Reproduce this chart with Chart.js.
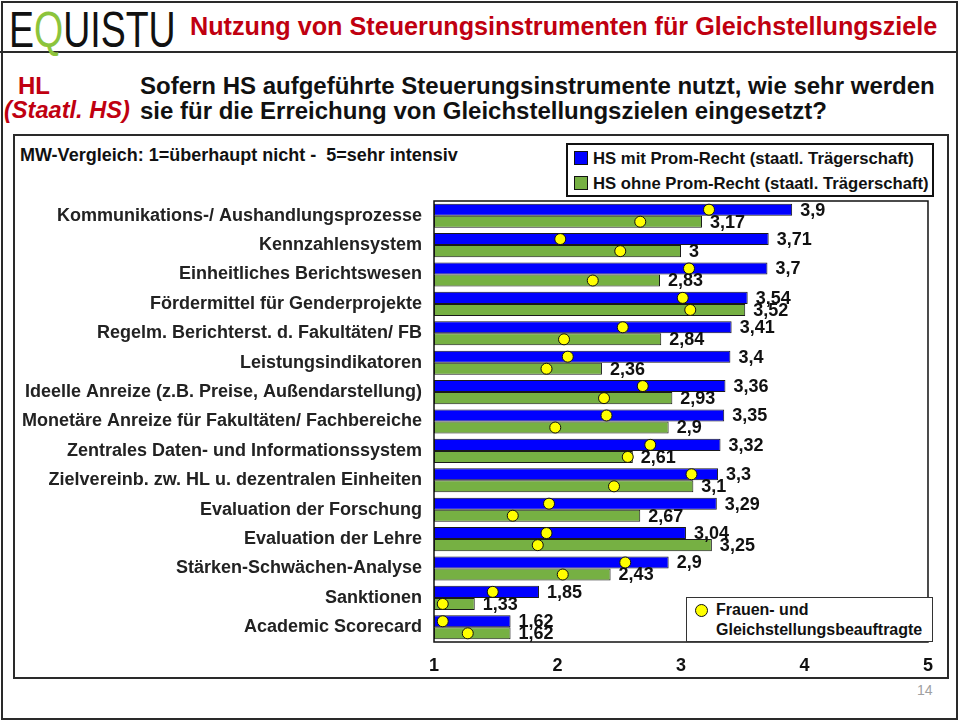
<!DOCTYPE html>
<html><head><meta charset="utf-8">
<script src="https://cdn.jsdelivr.net/npm/chart.js@4/dist/chart.umd.min.js"></script>
<style>
html,body{margin:0;padding:0;background:#fff;}
#page{position:relative;width:960px;height:721px;overflow:hidden;font-family:"Liberation Sans",Arial,sans-serif;color:#111;}
#frame{position:absolute;left:1px;top:1px;width:953px;height:715px;border:2px solid #2a2a2a;}
#hline{position:absolute;left:0;top:51px;width:958px;height:2px;background:#2a2a2a;}
#logo{position:absolute;left:9px;top:2px;font-family:"Liberation Sans",Arial,sans-serif;font-size:50px;line-height:56px;color:#111;transform:scaleX(0.75);transform-origin:0 0;white-space:nowrap;}
#logo .q{color:#8cc43c;}
#title{position:absolute;left:190px;top:12px;font-size:25.2px;font-weight:bold;color:#c00010;white-space:nowrap;}
.q1{position:absolute;font-size:24px;font-weight:bold;white-space:nowrap;}
#box{position:absolute;left:13px;top:134px;width:932px;height:541px;border:2px solid #2a2a2a;}
#mw{position:absolute;left:20px;top:145px;font-size:18px;font-weight:bold;white-space:nowrap;}
#leg1{position:absolute;left:566px;top:143px;width:364px;height:50px;border:2px solid #111;background:#fff;}
.li{position:absolute;left:6px;font-size:16.7px;font-weight:bold;white-space:nowrap;}
.sw{display:inline-block;width:12px;height:12px;border:1px solid #111;vertical-align:-1px;margin-right:5px;}
#leg2{position:absolute;left:686px;top:597px;width:245px;height:43px;border:1.5px solid #333;background:#fff;}
#leg2 .dot{position:absolute;left:8px;top:6px;width:11px;height:11px;border-radius:50%;background:#ffff00;border:1px solid #111;}
#leg2 .t{position:absolute;left:29px;top:2px;font-size:16px;font-weight:bold;line-height:20px;white-space:nowrap;}
#pnum{position:absolute;left:917px;top:682px;font-size:14px;color:#a0a0a0;}
#cv, #cvDots{position:absolute;left:14px;top:136px;}
</style></head>
<body><div id="page">
<div id="frame"></div>
<div id="hline"></div>
<div id="logo">E<span class="q">Q</span>UISTU</div>
<div id="title">Nutzung von Steuerungsinstrumenten für Gleichstellungsziele</div>
<div class="q1" style="left:18px;top:72px;color:#c00010;">HL</div>
<div class="q1" style="left:140px;top:72px;">Sofern HS aufgeführte Steuerungsinstrumente nutzt, wie sehr werden</div>
<div class="q1" style="left:4px;top:97px;color:#c00010;font-style:italic;font-size:23.6px;">(Staatl. HS)</div>
<div class="q1" style="left:140px;top:97px;">sie für die Erreichung von Gleichstellungszielen eingesetzt?</div>
<div id="box"></div>
<div id="mw">MW-Vergleich: 1=überhaupt nicht -&nbsp; 5=sehr intensiv</div>
<canvas id="cv" width="932" height="540"></canvas>
<canvas id="cvDots" width="932" height="540"></canvas>
<div id="leg1">
  <div class="li" style="top:4px;"><span class="sw" style="background:#0000ff"></span>HS mit Prom-Recht (staatl. Trägerschaft)</div>
  <div class="li" style="top:29px;"><span class="sw" style="background:#76b043"></span>HS ohne Prom-Recht (staatl. Trägerschaft)</div>
</div>
<div id="leg2"><div class="dot"></div><div class="t">Frauen- und<br>Gleichstellungsbeauftragte</div></div>
<div id="pnum">14</div>
</div>
<script>
const categories = [
  "Kommunikations-/ Aushandlungsprozesse",
  "Kennzahlensystem",
  "Einheitliches Berichtswesen",
  "Fördermittel für Genderprojekte",
  "Regelm. Berichterst. d. Fakultäten/ FB",
  "Leistungsindikatoren",
  "Ideelle Anreize (z.B. Preise, Außendarstellung)",
  "Monetäre Anreize für Fakultäten/ Fachbereiche",
  "Zentrales Daten- und Informationssystem",
  "Zielvereinb. zw. HL u. dezentralen Einheiten",
  "Evaluation der Forschung",
  "Evaluation der Lehre",
  "Stärken-Schwächen-Analyse",
  "Sanktionen",
  "Academic Scorecard"
];
const hsMitProm  = [3.9, 3.71, 3.7, 3.54, 3.41, 3.4, 3.36, 3.35, 3.32, 3.3, 3.29, 3.04, 2.9, 1.85, 1.62];
const hsOhneProm = [3.17, 3, 2.83, 3.52, 2.84, 2.36, 2.93, 2.9, 2.61, 3.1, 2.67, 3.25, 2.43, 1.33, 1.62];
const fgbMitProm  = [3.20, 2.01, 3.04, 2.99, 2.51, 2.07, 2.67, 2.38, 2.73, 3.06, 1.92, 1.90, 2.53, 1.47, 1.07];
const fgbOhneProm = [2.65, 2.49, 2.27, 3.05, 2.04, 1.90, 2.36, 1.97, 2.55, 2.44, 1.63, 1.83, 2.03, 1.07, 1.27];
const xTicks = [1, 2, 3, 4, 5];

const CAT_PCT = 0.82;
const off = CAT_PCT / 4;
const FONT = '"Liberation Sans", Arial, sans-serif';
const PAD = { left: 6, top: 65, right: 12, bottom: 0 };
const Y_W = 414, X_H = 34;

const valueLabels = {
  id: 'valueLabels',
  afterDatasetsDraw(chart) {
    const ctx = chart.ctx;
    ctx.save();
    ctx.font = 'bold 18px ' + FONT;
    ctx.fillStyle = '#111';
    ctx.textAlign = 'left';
    ctx.textBaseline = 'middle';
    chart.data.datasets.forEach((ds, di) => {
      chart.getDatasetMeta(di).data.forEach((el, i) => {
        ctx.fillText(String(ds.data[i]).replace('.', ','), el.x + 8, el.y + 1);
      });
    });
    ctx.restore();
  }
};
const areaBox = {
  id: 'areaBox',
  afterDatasetsDraw(chart) {
    const a = chart.chartArea, ctx = chart.ctx;
    ctx.save();
    ctx.strokeStyle = '#111';
    ctx.lineWidth = 1.5;
    ctx.strokeRect(a.left, a.top, a.right - a.left, a.bottom - a.top);
    ctx.restore();
  }
};

// Bars
new Chart(document.getElementById('cv'), {
  type: 'bar',
  data: {
    labels: categories,
    datasets: [
      { label: 'HS mit Prom-Recht (staatl. Trägerschaft)', data: hsMitProm, backgroundColor: '#0000ff',
        borderColor: '#1a1a1a', borderWidth: 1, borderSkipped: false, base: 1,
        categoryPercentage: CAT_PCT, barPercentage: 1 },
      { label: 'HS ohne Prom-Recht (staatl. Trägerschaft)', data: hsOhneProm, backgroundColor: '#76b043',
        borderColor: '#1a1a1a', borderWidth: 1, borderSkipped: false, base: 1,
        categoryPercentage: CAT_PCT, barPercentage: 1 }
    ]
  },
  options: {
    indexAxis: 'y',
    responsive: false,
    animation: false,
    devicePixelRatio: 1,
    layout: { padding: PAD },
    plugins: { legend: { display: false }, tooltip: { enabled: false } },
    scales: {
      x: {
        type: 'linear', min: 1, max: 5,
        afterBuildTicks(s) { s.ticks = xTicks.map(v => ({ value: v })); },
        afterFit(s) { s.height = X_H; },
        grid: { display: false, drawTicks: false }, border: { display: false },
        ticks: { padding: 13, color: '#111', font: { size: 18, weight: 'bold', family: FONT } }
      },
      y: {
        type: 'category',
        afterFit(s) { s.width = Y_W; },
        grid: { display: false, drawTicks: false }, border: { display: false },
        ticks: { padding: 12, color: '#222', autoSkip: false, font: { size: 18, weight: 'bold', family: FONT } }
      }
    }
  },
  plugins: [valueLabels, areaBox]
});

// Frauen- und Gleichstellungsbeauftragte dots (same plot area, overlay)
new Chart(document.getElementById('cvDots'), {
  type: 'scatter',
  data: {
    datasets: [
      { label: 'Frauen- und Gleichstellungsbeauftragte (mit Prom-Recht)',
        data: fgbMitProm.map((v, i) => ({ x: v, y: i - off })),
        pointRadius: 5.5, pointBackgroundColor: '#ffff00', pointBorderColor: '#111', pointBorderWidth: 1 },
      { label: 'Frauen- und Gleichstellungsbeauftragte (ohne Prom-Recht)',
        data: fgbOhneProm.map((v, i) => ({ x: v, y: i + off })),
        pointRadius: 5.5, pointBackgroundColor: '#ffff00', pointBorderColor: '#111', pointBorderWidth: 1 }
    ]
  },
  options: {
    responsive: false,
    animation: false,
    devicePixelRatio: 1,
    layout: { padding: { left: PAD.left + Y_W, top: PAD.top, right: PAD.right, bottom: PAD.bottom + X_H } },
    plugins: { legend: { display: false }, tooltip: { enabled: false } },
    scales: {
      x: { type: 'linear', display: false, min: 1, max: 5 },
      y: { type: 'linear', display: false, min: -0.5, max: categories.length - 0.5, reverse: true }
    }
  }
});
</script>
</body></html>
